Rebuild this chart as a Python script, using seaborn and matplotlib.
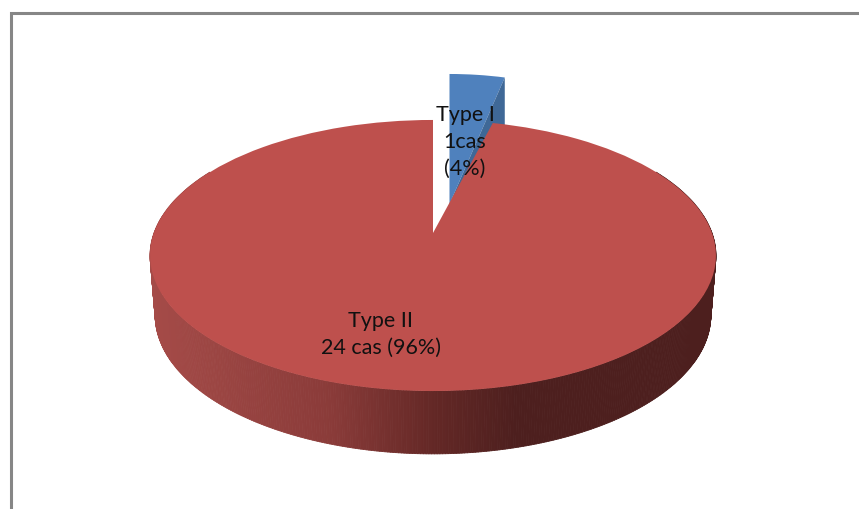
import numpy as np
import matplotlib
matplotlib.use('Agg')
import matplotlib.pyplot as plt
import matplotlib.transforms as mtransforms
from matplotlib.collections import PolyCollection
from matplotlib.colors import LinearSegmentedColormap
import seaborn as sns

# data
types = ['Type I', 'Type II']
cases = [1, 24]
labels = ['Type I\n1cas\n(4%)', 'Type II\n24 cas (96%)']
colors = ['#4F81BD', '#BE504D']

sns.set_theme(style='white')
plt.rcParams['font.family'] = ['Lato', 'DejaVu Sans']


# fake 3d: maps the unit disc of the pie onto a tilted disc (pixels)
class Tilt(mtransforms.Transform):
    input_dims = 2
    output_dims = 2

    def __init__(self, x0, y0, bx, by, k=0.166):
        super().__init__()
        self.x0, self.y0, self.bx, self.by, self.k = x0, y0, bx, by, k

    def transform_non_affine(self, values):
        values = np.asarray(values, dtype=float)
        d = 1 + self.k * values[:, 1]
        return np.column_stack([self.x0 + self.bx * values[:, 0] / d,
                                self.y0 - self.by * values[:, 1] / d])


top = Tilt(433, 234, 279, 131.8)
bottom = Tilt(433, 293, 274, 135)
blue_top = Tilt(449.5, 205, 258, 151.6)

fig = plt.figure(figsize=(8.59, 5.10), dpi=100)
ax = fig.add_axes([0, 0, 1, 1])

wedges, _ = ax.pie(cases, colors=sns.color_palette(colors), startangle=90,
                   counterclock=False, wedgeprops={'linewidth': 0})
ax.set_aspect('auto')
ax.set_xlim(0, 859)
ax.set_ylim(510, 0)
ax.set_axis_off()

# blue slice is pulled out, red one stays in place
wedges[0].set_transform(blue_top + ax.transData)
wedges[0].set_zorder(3)
wedges[1].set_transform(top + ax.transData)
wedges[1].set_zorder(5)

# cut face of the blue slice, behind the red disc
cut = np.radians(wedges[0].theta1)
edge = blue_top.transform(np.array([[0, 0], [np.cos(cut), np.sin(cut)]]))
face = np.vstack([edge, edge[::-1] + [0, 62]])
ax.fill(face[:, 0], face[:, 1], color='#3F6897', lw=0, zorder=4)

# red rim, shaded from left to right
shade = LinearSegmentedColormap.from_list(
    'rim', [(0, '#A54B48'), (0.32, '#8A3B39'), (0.5, '#642826'), (0.65, '#4D1F1E'), (1, '#4D1F1E')])
theta = np.radians(np.linspace(150, 390, 500))
circle = np.column_stack([np.cos(theta), np.sin(theta)])
upper = top.transform(circle)
lower = bottom.transform(circle)
quads = [[upper[i], upper[i + 1], lower[i + 1], lower[i]] for i in range(len(theta) - 1)]
mid_x = (upper[:-1, 0] + upper[1:, 0]) / 2
rim = PolyCollection(quads, array=(mid_x - 150) / 566, cmap=shade, clim=(0, 1),
                     linewidths=0.6, edgecolors='face', zorder=2)
ax.add_collection(rim)

# frame of the original sheet, only top and left are visible
ax.plot([10.5, 10.5, 859], [510, 13.5, 13.5], color='#868686', lw=2.2,
        solid_joinstyle='miter', zorder=1)

ax.text(465, 142, labels[0], ha='center', va='center', fontsize=15.5,
        color='#111111', linespacing=1.42, zorder=6)
ax.text(381, 334, labels[1], ha='center', va='center', fontsize=15.5,
        color='#111111', linespacing=1.42, zorder=6)

fig.savefig('out.png', dpi=100)
